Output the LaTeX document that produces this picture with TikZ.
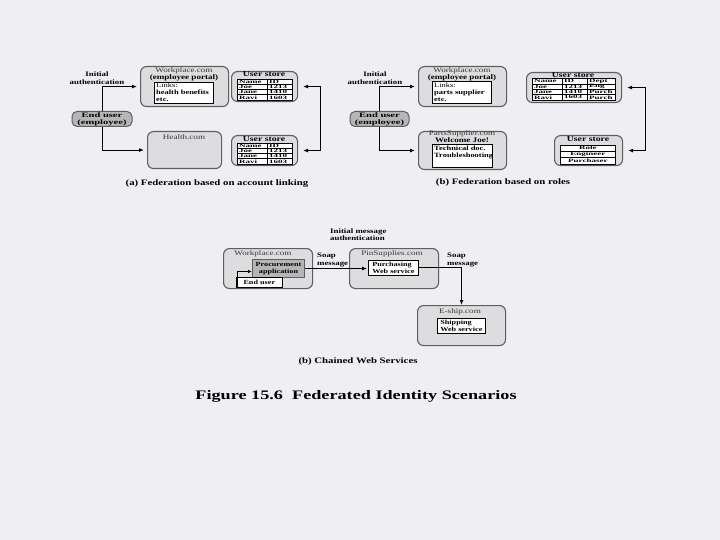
\documentclass[tikz,border=0pt]{standalone}
\usepackage{fontspec}
\setmainfont[FakeStretch=1.3]{Liberation Serif}
\newfontfamily\tabf[FakeStretch=1.8]{Liberation Serif}
\newfontfamily\wide[FakeStretch=1.55]{Liberation Serif}
\newfontfamily\capf[FakeStretch=1.4]{Liberation Serif}
\usetikzlibrary{arrows.meta}
\definecolor{bg}{RGB}{238,238,243}
\definecolor{boxfill}{RGB}{221,221,223}
\definecolor{boxline}{RGB}{95,95,95}
\definecolor{darkfill}{RGB}{182,182,184}
\definecolor{titlegray}{RGB}{55,55,55}
\begin{document}
\begin{tikzpicture}[x=1pt,y=-1pt,
 panel/.style={draw=boxline, fill=boxfill, rounded corners=6pt, line width=1.1pt, anchor=north west, inner sep=0pt},
 darkbox/.style={draw=boxline, fill=darkfill, rounded corners=5pt, line width=1pt, inner sep=0pt, align=center, font=\wide\bfseries\fontsize{6.8}{7}\selectfont},
 procbox/.style={draw=boxline, fill=darkfill, line width=1pt, inner sep=0pt, anchor=north west, align=center, font=\bfseries\fontsize{6.3}{6.8}\selectfont},
 whitebox/.style={draw=black, fill=white, line width=0.7pt, anchor=north west, inner sep=0pt},
 tbl/.style={draw=black, fill=white, line width=0.7pt, anchor=north west, inner sep=0pt},
 ttl/.style={font=\fontsize{7}{8}\selectfont, text=titlegray, inner sep=0pt},
 btl/.style={font=\bfseries\fontsize{7}{8}\selectfont, inner sep=0pt},
 ia/.style={font=\bfseries\fontsize{6.8}{7.5}\selectfont, align=center, inner sep=0pt},
 inr/.style={font=\bfseries\fontsize{6.5}{7}\selectfont, align=left, inner sep=0pt, anchor=north west},
 ust/.style={font=\bfseries\fontsize{7.5}{8}\selectfont, inner sep=0pt},
 tt/.style={font=\tabf\bfseries\fontsize{5}{5}\selectfont, inner sep=0pt},
 pcap/.style={font=\bfseries\fontsize{8.3}{10}\selectfont, inner sep=0pt},
 figcap/.style={font=\capf\bfseries\fontsize{13}{15}\selectfont, inner sep=0pt},
 arr/.style={-{Latex[length=5pt,width=4pt]}, line width=1pt},
 darr/.style={{Latex[length=5pt,width=4pt]}-{Latex[length=5pt,width=4pt]}, line width=1pt},
 tline/.style={line width=0.6pt}]
\useasboundingbox (0,0) rectangle (720,540);
\fill[bg] (0,0) rectangle (720,540);

% ---------------- Panel (a) ----------------
\node[ia] (iaA) at (97,78) {Initial\\authentication};
\node[darkbox, minimum width=60, minimum height=15] (euA) at (102,119) {End user\\(employee)};
\node[panel, minimum width=88, minimum height=40] (wpA) at (140,66) {};
\node[ttl] (wpAt) at (184,70.5) {Workplace.com};
\node[btl] (wpAt2) at (184,78) {(employee portal)};
\node[whitebox, minimum width=59, minimum height=21] (lkA) at (154,82) {};
\node[inr] (lkAt) at (156,83) {\mdseries Links:\\health benefits\\etc.};
\node[panel, minimum width=74, minimum height=37] (hA) at (147,131) {};
\node[ttl] (hAt) at (184,137) {Health.com};

\node[panel, minimum width=66, minimum height=30] (usA1) at (231,71) {};
\node[ust] (usA1t) at (264,74.5) {User store};
\node[tbl, minimum width=55, minimum height=21] (tA1) at (237,79) {};
\foreach \k in {1,2,3} \draw[tline] ([yshift={-\k*5.25}]tA1.north west) -- ([yshift={-\k*5.25}]tA1.north east);
\draw[tline] ([xshift=30]tA1.north west) -- ([xshift=30]tA1.south west);
\foreach \a/\b [count=\k] in {Name/ID,Joe/1213,Jane/1410,Ravi/1603} {
 \node[tt, anchor=west] (tA1a\k) at ([xshift=2,yshift={-(\k-0.5)*5.25}]tA1.north west) {\a};
 \node[tt, anchor=west] (tA1b\k) at ([xshift=32,yshift={-(\k-0.5)*5.25}]tA1.north west) {\b};
}

\node[panel, minimum width=66, minimum height=30] (usA2) at (231,135) {};
\node[ust] (usA2t) at (264,139) {User store};
\node[tbl, minimum width=55, minimum height=21] (tA2) at (237,143) {};
\foreach \k in {1,2,3} \draw[tline] ([yshift={-\k*5.25}]tA2.north west) -- ([yshift={-\k*5.25}]tA2.north east);
\draw[tline] ([xshift=30]tA2.north west) -- ([xshift=30]tA2.south west);
\foreach \a/\b [count=\k] in {Name/ID,Joe/1213,Jane/1410,Ravi/1603} {
 \node[tt, anchor=west] (tA2a\k) at ([xshift=2,yshift={-(\k-0.5)*5.25}]tA2.north west) {\a};
 \node[tt, anchor=west] (tA2b\k) at ([xshift=32,yshift={-(\k-0.5)*5.25}]tA2.north west) {\b};
}

\draw[arr, shorten >=3pt] (euA.north) |- (wpA.west);
\draw[arr, shorten >=3pt] (euA.south) |- (hA.west);
\draw[darr, shorten <=5pt, shorten >=5pt] (usA1.east) -- ++(22,0) |- (usA2.east);
\node[pcap] (capA) at (217,184) {(a) Federation based on account linking};

% ---------------- Panel (b) ----------------
\node[ia] (iaB) at (375,78) {Initial\\authentication};
\node[darkbox, minimum width=59, minimum height=15] (euB) at (379.5,119) {End user\\(employee)};
\node[panel, minimum width=88, minimum height=40] (wpB) at (418,66) {};
\node[ttl] (wpBt) at (462,70.5) {Workplace.com};
\node[btl] (wpBt2) at (462,78) {(employee portal)};
\node[whitebox, minimum width=59, minimum height=22] (lkB) at (432,81.5) {};
\node[inr] (lkBt) at (434,82.5) {\mdseries Links:\\parts supplier\\etc.};
\node[panel, minimum width=88, minimum height=38] (psB) at (418,131) {};
\node[ttl] (psBt) at (462,134) {PartsSupplier.com};
\node[btl] (psBt2) at (462,140.5) {Welcome Joe!};
\node[whitebox, minimum width=60, minimum height=23] (tdB) at (432,144) {};
\node[inr] (tdBt) at (434,145.5) {Technical doc.\\Troubleshooting};

\node[panel, minimum width=95, minimum height=30] (usB1) at (526,72) {};
\node[ust] (usB1t) at (573,75.5) {User store};
\node[tbl, minimum width=83, minimum height=21.5] (tB1) at (532,78.5) {};
\foreach \k in {1,2,3} \draw[tline] ([yshift={-\k*5.375}]tB1.north west) -- ([yshift={-\k*5.375}]tB1.north east);
\draw[tline] ([xshift=30]tB1.north west) -- ([xshift=30]tB1.south west);
\draw[tline] ([xshift=55]tB1.north west) -- ([xshift=55]tB1.south west);
\foreach \a/\b/\c [count=\k] in {Name/ID/Dept,Joe/1213/Eng,Jane/1410/Purch,Ravi/1603/Purch} {
 \node[tt, anchor=west] (tB1a\k) at ([xshift=2,yshift={-(\k-0.5)*5.375}]tB1.north west) {\a};
 \node[tt, anchor=west] (tB1b\k) at ([xshift=32,yshift={-(\k-0.5)*5.375}]tB1.north west) {\b};
 \node[tt, anchor=west] (tB1c\k) at ([xshift=57,yshift={-(\k-0.5)*5.375}]tB1.north west) {\c};
}

\node[panel, minimum width=68, minimum height=30] (usB2) at (554,135) {};
\node[ust] (usB2t) at (588,139) {User store};
\node[tbl, minimum width=55, minimum height=19] (tB2) at (560,145) {};
\foreach \k in {1,2} \draw[tline] ([yshift={-\k*6.333}]tB2.north west) -- ([yshift={-\k*6.333}]tB2.north east);
\foreach \a [count=\k] in {Role,Engineer,Purchaser} {
 \node[tt] (tB2a\k) at ([yshift={-(\k-0.5)*6.333}]tB2.north) {\a};
}

\draw[arr, shorten >=3pt] (euB.north) |- (wpB.west);
\draw[arr, shorten >=3pt] (euB.south) |- (psB.west);
\draw[darr, shorten <=5pt, shorten >=5pt] (usB1.east) -- ++(23,0) |- (usB2.east);
\node[pcap] (capB) at (503,183) {(b) Federation based on roles};

% ---------------- Panel (c) ----------------
\node[ia, align=left, anchor=west] (iaC) at (330,234.5) {Initial message\\authentication};
\node[panel, minimum width=89, minimum height=40] (wpC) at (223,248) {};
\node[ttl] (wpCt) at (263,253.5) {Workplace.com};
\node[procbox, minimum width=52, minimum height=18] (procC) at (252,259) {Procurement\\application};
\node[whitebox, minimum width=46, minimum height=10, font=\bfseries\fontsize{6.3}{7}\selectfont] (euC) at (236,277) {End user};
\draw[line width=1pt, -{Latex[length=4pt,width=3.5pt]}] ([xshift=1pt]euC.south west) |- ([yshift=-3pt]procC.west);

\node[panel, minimum width=89, minimum height=40] (psC) at (349,248) {};
\node[ttl] (psCt) at (392,253.5) {PinSupplies.com};
\node[whitebox, minimum width=50, minimum height=15, font=\bfseries\fontsize{6.3}{6.8}\selectfont, align=left] (pwC) at (368,260) {Purchasing\\Web service};

\node[panel, minimum width=88, minimum height=40] (esC) at (417,305) {};
\node[ttl] (esCt) at (460,311.5) {E-ship.com};
\node[whitebox, minimum width=48, minimum height=15, font=\bfseries\fontsize{6.3}{6.8}\selectfont, align=left] (shC) at (437,318) {Shipping\\Web service};

\draw[arr, shorten >=1pt] (procC.east) -- (procC.east -| pwC.west);
\draw[arr] (pwC.east) -| (esC.north);
\node[ia, align=left, anchor=west] (smC1) at (317,260) {Soap\\message};
\node[ia, align=left, anchor=west] (smC2) at (447,260) {Soap\\message};
\node[pcap] (capC) at (358,362) {(b) Chained Web Services};

\node[figcap] (fig) at (356,396) {Figure 15.6\ \ Federated Identity Scenarios};
\end{tikzpicture}
\end{document}
